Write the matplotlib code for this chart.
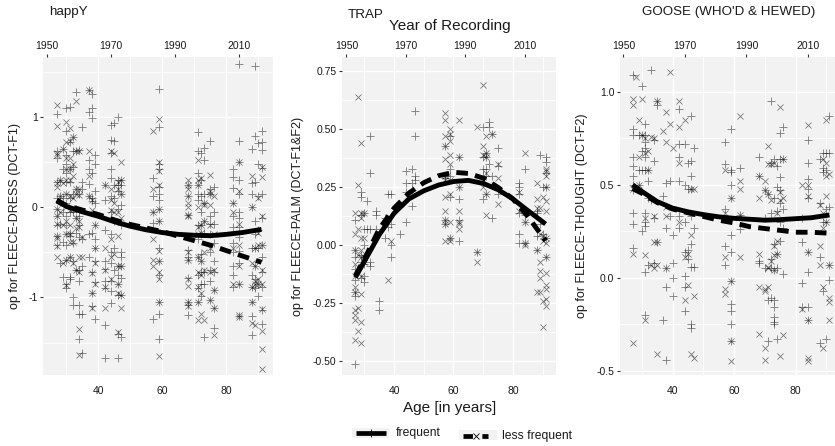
import matplotlib
matplotlib.use("Agg")
import matplotlib.pyplot as plt
from matplotlib.lines import Line2D
from matplotlib.patches import Rectangle

plt.rcParams['font.family'] = ['Liberation Sans', 'DejaVu Sans']

W, H = 835, 446

# ---- panel 1: happY ----
p1_plus = {
27:[1.04,.62,.55,.28,.1,-.02,-.1,-.2,-.32,-.42],28:[.3,.12,-.18,-.62],29:[.65,.43,.1,-.05,-.38,-.77],
30:[1.1,.85,.58,.48,.38,.28,.15,.05,-.1,-.2,-.3,-.42,-.58,-.85,-.9],31:[1.11,.72,.42,.28,.1,-.05,-.28,-.32,-.55,-.77,-.8],
32:[.78,.62,.45,.15,-.05,-.4,-.6,-1.0,-1.08],33:[1.28,.62,.2,-.02,-.12,-.28,-.7],34:[.64,.15,-.1,-.2,-.33,-.7,-.82,-1.08,-1.18,-1.46],
35:[.89,.28,.2,-.35,-.65,-1.18,-1.62],37:[1.30,1.06,.53,.42,.26,.13,-.3,-.55],38:[1.26,1.10,.99,.38,.1,.07,-.28,-.72,-.95,-1.1],
39:[.58,.48,.18,.05,-.2,-.35,-.45,-.6,-.83,-1.24],42:[.25,.08,-.25,-.6,-.68,-.82,-.9,-1.31,-1.67],
44:[.91,.75,.6,.42,.33,.12,-.05,-.3,-.5,-.62,-.82,-.93,-1.06],45:[.94,.74,.25,.1,-.15,-.45,-.7],
46:[1.0,.3,.25,.18,-.02,-.65,-.75,-.85,-.97,-1.67,-1.4],47:[.3,.25,.15,.02,-.2,-.5,-.55,-.65,-.78,-.97,-1.44],
57:[.32,.12,-.05,-.17,-1.24],59:[1.31,.89,.48,.42,.22,.15,.08,-.02,-.15,-.45,-.6,-.75,-1.05,-1.18,-1.46],
68:[.25,.12,-.08,-.47,-.55,-.58,-.78,-1.05,-1.08,-1.19],71:[.83,.62,.38,.25,.15,.08,-.2,-.35,-.55,-.75,-.9,-1.05],
72:[.6,.3,.13,-.05,-.2,-.3,-.52,-.6,-.72,-.85,-.98],73:[.66,.52,.15,.05,-.15,-.28,-.72,-.85,-1.44],
75:[.74,.2,.15,-.1,-.18,-.3,-.5,-.7,-.82,-1.03],76:[.22,-.05,-.18,-.4,-.6,-.72,-.92,-1.12,-1.34],
82:[.42,.34,.21,.05,-.1,-.22,-.4,-.5,-.65,-.75,-.88],84:[1.59,.73,.5,.3,.15,-.05,-.12,-.22,-.33,-.48,-.62,-.85,-1.2],
88:[.65,.27,.15,0,-.45,-.75,-.88,-1.05,-1.2,-1.42],89:[1.57,.79,.28,-.15,-.3,-.45,-.65,-.8,-.9],
90:[.71,.48,.12,-.25,-.45,-.85,-.98],91:[.85,.72,.63,.44,.15,-.12,-.42,-.55,-.72,-.88,-1.14,-1.29]}
p1_cross = {
27:[1.13,.9,.6,.58,.27,.22,-.02,-.1,-.18,-.32,-.34,-.43,-.55],28:[.3,.12,-.05],29:[.65,.27,-.2,-.62],
30:[.95,.72,.55,.42,.3,.15,0,-.15,-.3,-.58,-.86],31:[.88,.73,.55,.42,.3,.12,-.03,-.2,-.3,-.38,-.55],
32:[.78,.48,.35,.1,-.02,-.38,-.62],33:[1.18,.62,.2,.15,-.12,-.23,-.7],34:[.62,.2,.14,-.15,-.22,-.55,-.72,-1.35,-1.64],
35:[-.33,-.55],37:[1.30,.62,.35,.12],38:[.08,-.03,-.73,-.95,-1.12],39:[-.2,-.45,-.62,-.85],42:[.25,-.45,-.7,-.88,-1.12],
44:[.62,.2,.08,-.03,-.35,-.55,-.8],45:[.6,.05,-.05,-.52],46:[.28,.2,-.05,-.32,-.65,-.85,-.95,-1.38],47:[.5,.3,.15,-.12,-.65,-.97,-1.12],
57:[.85,.2,-.05,-.35,-.58,-.65],59:[.98,.5,.4,.25,-.02,-.15,-.48,-.6,-.72,-.8,-1.05,-1.65],
68:[.3,.25,.2,.12,.05,0,-.08,-.1,-.5,-.58,-.8,-.87,-1.05,-1.1],71:[.52,.3,.25,0,-.22,-.3,-.55,-.72,-.88,-1.05,-1.25],
72:[.32,-.2,-.28,-.6,-.75,-.95,-1.18],73:[.05,.02,-.15,-.5,-.7,-1.25],75:[.36,.18,.15,.03,-.2,-.45,-.72,-1.03],
76:[.12,-.3,-.7,-.92,-1.12,-1.42],82:[.05,-.05,-.45,-.85],84:[.5,.18,-.18,-.42,-.65,-.85,-1.19,-1.22],
88:[.35,0,-.62,-.88,-1.05,-1.28],89:[-.45,-.65,-.82,-.85,-1.3],90:[.1,-.28,-.42,-.8,-.85],
91:[.34,.45,-.1,-.42,-.7,-.85,-1.13,-1.37,-1.57,-1.79]}
curve_ages = [27,30,35,40,45,50,55,60,65,70,75,80,85,91]
p1_solid  = [.07,.01,-.05,-.10,-.16,-.21,-.25,-.28,-.30,-.31,-.315,-.30,-.28,-.245]
p1_dashed = [.08,.02,-.03,-.08,-.14,-.19,-.23,-.27,-.32,-.37,-.42,-.48,-.54,-.61]

# ---- panel 2: TRAP ----
p2_plus = {
27:[.11,-.02,-.05,-.1,-.15,-.2,-.22,-.51],29:[.23,.21,.13,-.04,-.07,-.14],30:[.14,.07,0,-.05,-.08,-.16,-.13],31:[.19,.07],
32:[.47,.31,.07,-.07,-.09],34:[.15,.13,.07],35:[-.24,-.28],37:[.12,.03],38:[.22,.08],39:[.22,.09,0,-.05],42:[.05],
44:[.32,.27,.23,.10],46:[.33,.27,.24,.17],47:[.58,.47,.30,.28],57:[.43,.30,.29,.11,.09],59:[.47,.33,.30,.21,.03],
62:[.38,.25,.20,.11,.02],68:[-.03],70:[.51,.38,.33,.30,.27,.20],71:[.40,.38,.33,.30,.22],72:[.53,.51,.35],73:[.48,.30,.12],
75:[.42,.34,.22],82:[.27,.25,.22,.14,.05,.01],84:[.33,.13,.10,.01],88:[.15,.14,.04,-.02],89:[.39,.09],90:[.25,.05],
91:[.38,.36,.31,.25,.03,-.05]}
p2_cross = {
27:[.14,.05,-.02,-.08,-.13,-.18,-.2,-.28,-.3,-.32,-.41],28:[.64,.26,.07,-.04,-.27,-.37],
29:[.44,.14,.12,.03,-.02,-.05,-.13,-.21,-.33,-.42],30:[.14,.03,-.05,-.07],38:[-.15],39:[.02],
57:[.57,.54,.47,.43,.37,.3,.28,.21,.15,.11,.09,.02],59:[.5,.48,.45,.39,.35,.28,.22,.1,.03,.02],
62:[.54,.38,.25,.15,.1,.09,.07],68:[.51,-.03,-.07],70:[.69,.43,.39,.28,.25],71:[.47,.4,.38,.31,.22,.13],73:[.48],
75:[.35,.29,.18],82:[.23,.15],84:[.4,.1,.01,0],88:[.27,.2,.16,-.02,-.2],89:[.16,.05,-.07,-.11,-.14,-.2],
90:[.21,.04,.02,-.24,-.35],91:[.33,.32,.3,.25,.19,.15,.03,.01,-.05,-.12,-.17,-.19,-.23,-.26]}
p2_solid  = [-.138,-.07,.045,.138,.20,.235,.26,.275,.28,.267,.24,.20,.15,.092]
p2_dashed = [-.13,-.06,.07,.16,.225,.27,.30,.315,.31,.29,.25,.20,.125,.02]

# ---- panel 3: GOOSE ----
p3_plus = {
27:[1.09,.8,.77,.65,.6,.55,.5,.47,.35,.29,.16],29:[.77,.58,.5],30:[1.03,.77,.68,.58,.25],
31:[.83,.77,.73,.7,.65,.58,.35,.3,.28,.03,-.2],32:[.58,.52,.43,.07],33:[1.12,.42],34:[.74,.63,.32,.08],35:[.95,.93,.19],
37:[.44,-.23],38:[.51,.27,.05,-.05,-.44],39:[.52,.33],40:[.23,.08,0,-.1],42:[.91,.72,.65,.52,.33,.27],
44:[.72,.5,.3,.14,.01,-.05,-.18],45:[.62,.48,.15,.1],46:[.87,.63,.55,.48,.33,.18,.06,-.25,-.27],47:[.7,.27,.06],
57:[.73,.61,.37,.17,.07],59:[.8,.58,.57,.5,.43,.23,.14,-.02,-.14,-.18,-.25,-.34],62:[.59,.34,.26],68:[.65,.55,.09,.08],
70:[.47,.32,.05],71:[.45,-.12,-.34],72:[.95,.62,.35,.1,.05,-.11],73:[.64,.43,.18,.04,-.12,-.16,-.21,-.24,-.25],
74:[.6,.49,.36,.13,.05,-.33],75:[.78,.64,.54,.47,.4,.3,.2],76:[.81,.64,.37,.27,.02],82:[.32,.19,-.03,-.16],
84:[.74,.62,.53,.48,.43,.14,.03,-.16,-.23],88:[.64,.4,.11,-.35],89:[.67,.59,.57,.3,-.07],90:[.67,.58,.37,.3,-.33],
91:[.87,.67,.38,.07,-.01]}
p3_cross = {
27:[.96,.93,.48,.13,-.35],28:[1.08],29:[.85,.65,.5],30:[.96,.77],31:[.75,.67,.32,.12,-.23],32:[.68,.58],33:[.76,.07],
34:[.75,.33,.19,.05],35:[.95,.19,.07,-.41],37:[.79],38:[.89,.73,.38,.33,.05],39:[1.11,.83],40:[.7],42:[.95,.81,.62,.3],
44:[.85,.11,-.12],45:[.13,-.04],46:[.48,.23,-.41],47:[.48,-.1,-.43],57:[.58,.35,.11,-.06,-.09],59:[.43,-.02,-.34,-.45],
62:[.87,.52,.48,.34,.11],68:[.55,.43,.13,-.05,-.3],70:[.52,.47,-.06,-.07,-.38,-.44],71:[.71,.61,.45,.06,.05,-.05],
72:[.61,.42,.09],73:[.62,.17,.12,.04],74:[.35,.2,.13],75:[.92,.46,.42,-.42],76:[.64,.43,-.31],82:[.5,-.17],
84:[.82,.5,.44,.14,-.23,-.43,-.45],88:[.39,.17,.07],89:[.64,.35,.27,-.05,-.38],90:[.85,.62,.55,.44,.3],
91:[.56,.07,-.11,-.13,-.23]}
p3_solid  = [.50,.465,.41,.375,.355,.34,.328,.32,.315,.31,.313,.318,.323,.338]
p3_dashed = [.48,.455,.405,.37,.35,.33,.31,.295,.275,.265,.255,.245,.245,.24]

titles = ["happY", "TRAP", "GOOSE (WHO'D & HEWED)"]
ylabels = ["op for FLEECE-DRESS (DCT-F1)", "op for FLEECE-PALM (DCT-F1&F2)", "op for FLEECE-THOUGHT (DCT-F2)"]
age_ticks = [40, 60, 80]
year_ticks = [1950, 1970, 1990, 2010]
legend_labels = ["frequent", "less frequent"]

GREY = "#f2f2f2"
INK = "#1a1a1a"

def axes_px(l, t, r, b):
    return fig.add_axes([l / W, 1 - b / H, (r - l) / W, (b - t) / H])

fig = plt.figure(figsize=(W / 100, H / 100), dpi=100)

panels = [
 dict(box=(43.3, 56.7, 272.7, 375.3), xlim=(22.8, 94.5), ylim=(-1.863, 1.67),
      yticks=[-1, 0, 1], ylab=["-1", "0", "1"], yminor=[-1.5, -.5, .5, 1.5],
      plus=p1_plus, cross=p1_cross, solid=p1_solid, dashed=p1_dashed, ylx=15, tx=49, ty=12),
 dict(box=(342, 56.7, 556, 375.3), xlim=(22.5, 94.5), ylim=(-.56, .813),
      yticks=[-.5, -.25, 0, .25, .5, .75], ylab=["-0.50", "-0.25", "0.00", "0.25", "0.50", "0.75"],
      yminor=[-.375, -.125, .125, .375, .625],
      plus=p2_plus, cross=p2_cross, solid=p2_solid, dashed=p2_dashed, ylx=298.5, tx=348, ty=15),
 dict(box=(620, 56.7, 835, 375.3), xlim=(22.9, 92.8), ylim=(-.525, 1.19),
      yticks=[-.5, 0, .5, 1], ylab=["-0.5", "0.0", "0.5", "1.0"], yminor=[-.25, .25, .75],
      plus=p3_plus, cross=p3_cross, solid=p3_solid, dashed=p3_dashed, ylx=582, tx=642, ty=12),
]

for i, p in enumerate(panels):
    ax = axes_px(*p["box"])
    ax.set_facecolor(GREY)
    ax.set_xlim(*p["xlim"]); ax.set_ylim(*p["ylim"])
    for s in ax.spines.values():
        s.set_visible(False)
    ax.set_xticks(age_ticks); ax.set_xticks([30, 50, 70, 90], minor=True)
    ax.set_yticks(p["yticks"]); ax.set_yticklabels(p["ylab"])
    ax.set_yticks(p["yminor"], minor=True)
    ax.grid(True, which="major", color="white", lw=1.0)
    ax.grid(True, which="minor", color="white", lw=0.6)
    ax.set_axisbelow(True)
    ax.tick_params(which="minor", length=0)
    ax.tick_params(axis="x", which="major", length=0, pad=8, labelsize=7.5, labelcolor=INK)
    ax.tick_params(axis="y", which="major", length=2, width=0.8, pad=2, labelsize=7.5, labelcolor=INK, color="#333333")
    for age, vals in p["plus"].items():
        ax.plot([age] * len(vals), vals, ls="", marker="+", ms=5.2, mew=0.6, color="black", alpha=0.5)
    for age, vals in p["cross"].items():
        ax.plot([age] * len(vals), vals, ls="", marker="x", ms=3.8, mew=0.6, color="black", alpha=0.5)
    ax.plot(curve_ages, p["dashed"], color="black", lw=3.5, dashes=(2.4, 1.5), dash_capstyle="butt")
    ax.plot(curve_ages, p["solid"], color="black", lw=3.5, solid_capstyle="butt", solid_joinstyle="round")
    top = ax.secondary_xaxis("top", functions=(lambda a: a + 1926, lambda y: y - 1926))
    top.set_xticks(year_ticks)
    top.tick_params(length=2, width=0.8, pad=2, labelsize=7.5, labelcolor=INK, color="#333333")
    for s in top.spines.values():
        s.set_visible(False)
    fig.text(p["tx"] / W, 1 - p["ty"] / H, titles[i], fontsize=9.6, ha="left", va="center", color=INK)
    fig.text(p["ylx"] / W, 1 - 216 / H, ylabels[i], fontsize=9.0, rotation=90, ha="center", va="center", color=INK)

fig.text(450 / W, 1 - 26 / H, "Year of Recording", fontsize=11, ha="center", va="center", color=INK)
fig.text(450 / W, 1 - 408 / H, "Age [in years]", fontsize=11, ha="center", va="center", color=INK)

# legend keys, placed in pixels of the figure
px = lambda x, y: (x / W, 1 - y / H)
def key_rect(l, t, r, b):
    x, y = px(l, b)
    fig.add_artist(Rectangle((x, y), (r - l) / W, (b - t) / H, transform=fig.transFigure, color=GREY, lw=0))
key_rect(352, 428, 389, 438)
key_rect(459, 430, 497, 440)
x0, y0 = px(356, 433); x1, _ = px(386, 433)
fig.add_artist(Line2D([x0, x1], [y0, y0], transform=fig.transFigure, color="black", lw=3.4, solid_capstyle="butt"))
fig.add_artist(Line2D([(x0 + x1) / 2], [y0], transform=fig.transFigure, ls="", marker="+", ms=5.2, mew=0.6, color="black"))
x0, y0 = px(463, 436); x1, _ = px(488, 436)
fig.add_artist(Line2D([x0, x1], [y0, y0], transform=fig.transFigure, color="black", lw=3.4, dashes=(2.0, 2.0), dash_capstyle="butt"))
fig.add_artist(Line2D([(x0 + x1) / 2], [y0], transform=fig.transFigure, ls="", marker="x", ms=3.8, mew=0.6, color="black"))
fig.text(396 / W, 1 - 433 / H, legend_labels[0], fontsize=8.7, ha="left", va="center", color=INK)
fig.text(502 / W, 1 - 436 / H, legend_labels[1], fontsize=8.7, ha="left", va="center", color=INK)

fig.savefig("out.png", dpi=100)
